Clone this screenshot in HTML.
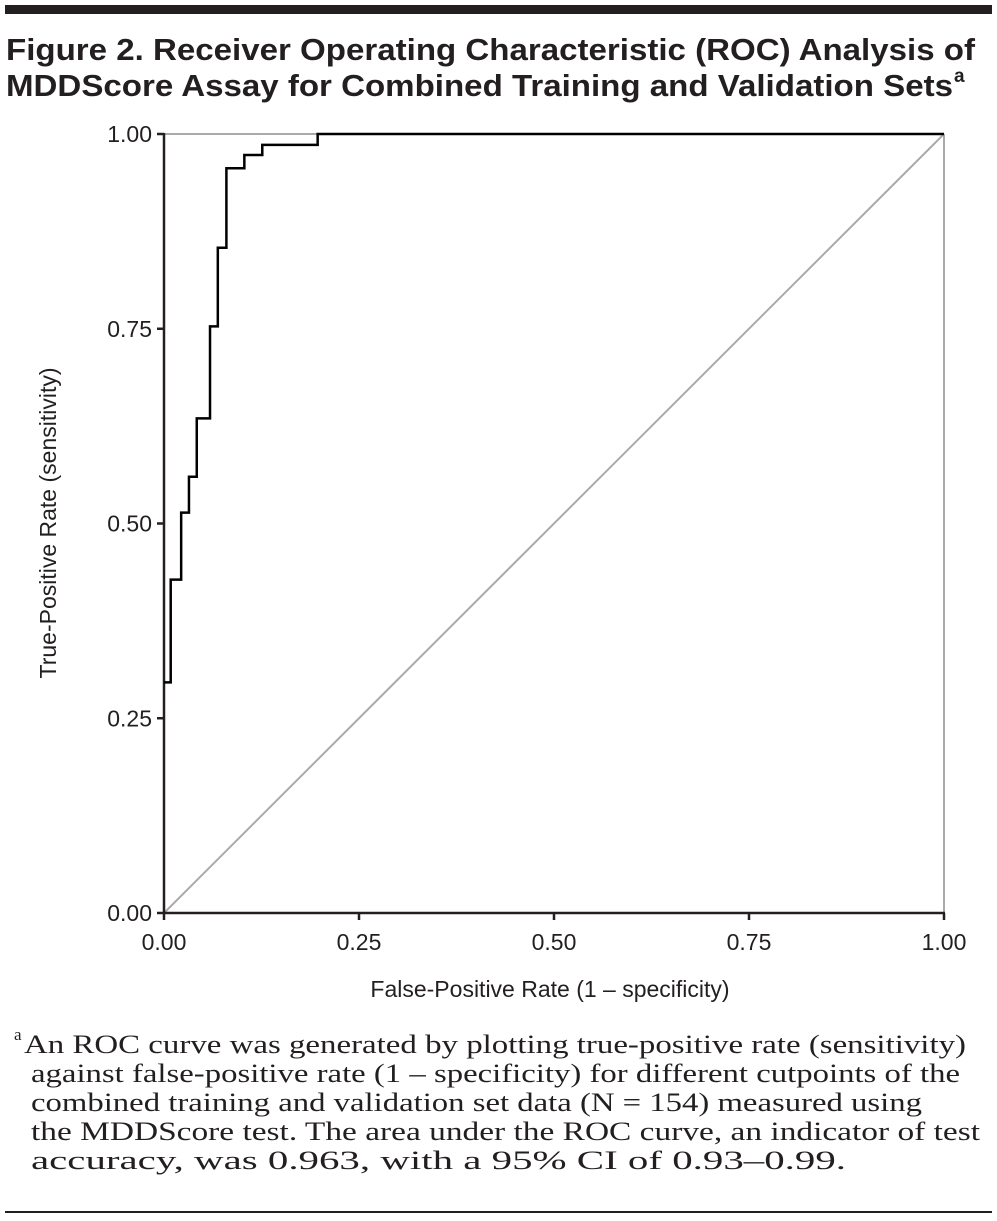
<!DOCTYPE html>
<html><head><meta charset="utf-8"><style>
body{margin:0;background:#fff;}
svg{display:block;}
</style></head><body>
<svg width="997" height="1221" viewBox="0 0 997 1221">
<rect x="5" y="5" width="987" height="9" fill="#231f20"/>
<g font-family="Liberation Sans, sans-serif" font-weight="bold" font-size="31" fill="#231f20">
<text x="6" y="60" textLength="969" lengthAdjust="spacingAndGlyphs">Figure 2. Receiver Operating Characteristic (ROC) Analysis of</text>
<text x="6" y="96" textLength="947" lengthAdjust="spacingAndGlyphs">MDDScore Assay for Combined Training and Validation Sets</text>
<text x="954" y="82" font-size="19">a</text>
</g>
<g id="plot" font-family="Liberation Sans, sans-serif" font-size="23" fill="#231f20"></g>
<g font-family="Liberation Serif, serif" font-size="26" fill="#231f20">
<text x="14" y="1040" font-size="17">a</text>
<text x="24" y="1053" textLength="942" lengthAdjust="spacingAndGlyphs">An ROC curve was generated by plotting true-positive rate (sensitivity)</text>
<text x="31" y="1082" textLength="929" lengthAdjust="spacingAndGlyphs">against false-positive rate (1 – specificity) for different cutpoints of the</text>
<text x="31" y="1111" textLength="891" lengthAdjust="spacingAndGlyphs">combined training and validation set data (N = 154) measured using</text>
<text x="31" y="1140" textLength="949" lengthAdjust="spacingAndGlyphs">the MDDScore test. The area under the ROC curve, an indicator of test</text>
<text x="31" y="1169" textLength="815" lengthAdjust="spacingAndGlyphs">accuracy, was 0.963, with a 95% CI of 0.93–0.99.</text>
</g>
<rect x="5" y="1211" width="987" height="2" fill="#231f20"/>
</svg>
<script>
const fprValues=[0,0.0086,0.0086,0.022,0.022,0.032,0.032,0.042,0.042,0.059,0.059,0.069,0.069,0.080,0.080,0.103,0.103,0.126,0.126,0.197,0.197,1];
const tprValues=[0.296,0.296,0.428,0.428,0.514,0.514,0.560,0.560,0.635,0.635,0.753,0.753,0.854,0.854,0.956,0.956,0.973,0.973,0.986,0.986,1,1];
const tickValues=[0,0.25,0.5,0.75,1];
const tickLabels=["0.00","0.25","0.50","0.75","1.00"];
const NS="http://www.w3.org/2000/svg";
const g=document.getElementById('plot');
const X0=164,X1=944,Y0=913,Y1=134;
const sx=v=>X0+v*(X1-X0), sy=v=>Y0-v*(Y0-Y1);
function mk(t,a){const e=document.createElementNS(NS,t);for(const k in a)e.setAttribute(k,a[k]);g.appendChild(e);return e;}
let e;
e=mk('line',{x1:sx(0),y1:sy(1),x2:sx(1),y2:sy(1),stroke:'#aaa','stroke-width':2});


e=mk('line',{x1:sx(1),y1:sy(0),x2:sx(1),y2:sy(1),stroke:'#aaa','stroke-width':2});


e=mk('line',{x1:sx(0),y1:sy(0),x2:sx(1),y2:sy(1),stroke:'#aaa','stroke-width':2});


e=mk('line',{x1:sx(0),y1:sy(0)+1,x2:sx(0),y2:sy(1)-1,stroke:'#231f20','stroke-width':2.5});


e=mk('line',{x1:sx(0)-1,y1:sy(0),x2:sx(1)+1,y2:sy(0),stroke:'#231f20','stroke-width':2.5});


tickValues.forEach((v,i)=>{
 let t=mk('line',{x1:sx(0)-7,y1:sy(v),x2:sx(0),y2:sy(v),stroke:'#231f20','stroke-width':2.5});
 
 
 t=mk('line',{x1:sx(v),y1:sy(0),x2:sx(v),y2:sy(0)+7,stroke:'#231f20','stroke-width':2.5});
 
 
 t=mk('text',{x:sx(0)-12,y:sy(v)+8,'text-anchor':'end'});t.textContent=tickLabels[i];
 
 
 t=mk('text',{x:sx(v),y:sy(0)+37,'text-anchor':'middle'});t.textContent=tickLabels[i];
 
 
});
e=mk('polyline',{points:fprValues.map((v,i)=>sx(v)+','+sy(tprValues[i])).join(' '),fill:'none',stroke:'#000','stroke-width':2.5});


e=mk('text',{x:550,y:997,'text-anchor':'middle'});e.textContent='False-Positive Rate (1 – specificity)';


e=mk('text',{x:0,y:0,'text-anchor':'middle',transform:'translate(56,523) rotate(-90)'});e.textContent='True-Positive Rate (sensitivity)';


</script>
</body></html>
